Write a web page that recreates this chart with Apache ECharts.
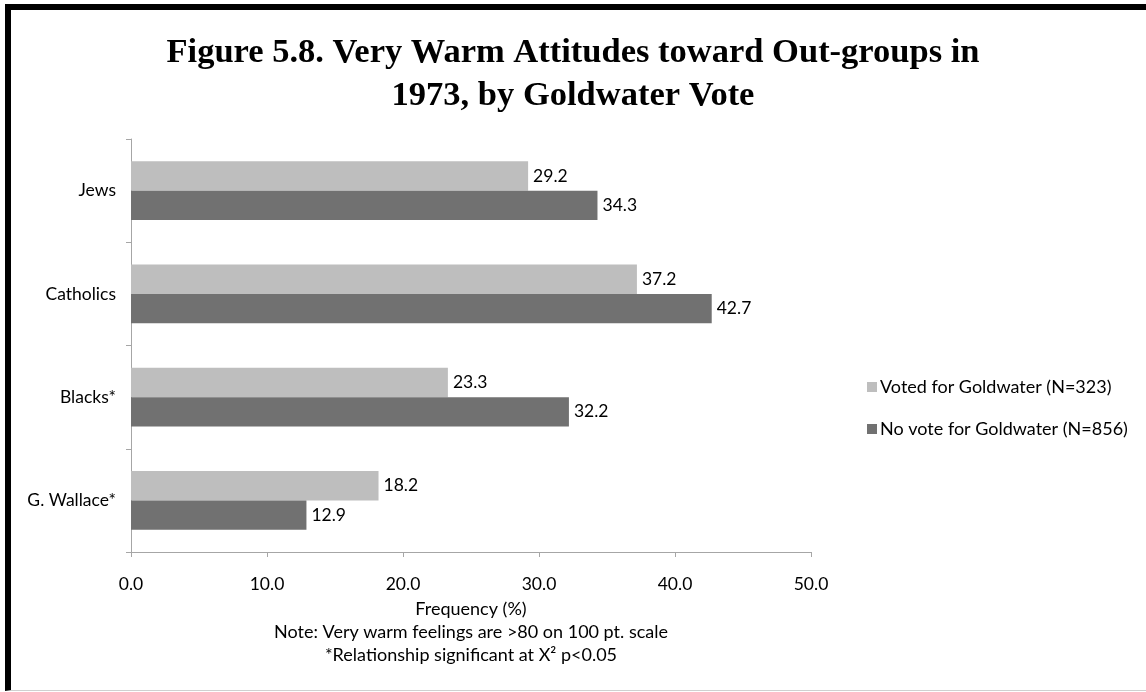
<!DOCTYPE html>
<html>
<head>
<meta charset="utf-8">
<script src="https://cdn.jsdelivr.net/npm/echarts@6/dist/echarts.min.js"></script>
<style>
html, body { margin: 0; padding: 0; background: #fff; }
#wrap { position: relative; width: 1146px; height: 692px; }
#chart { width: 1146px; height: 692px; }
/* frame round the figure */
#frame {
    position: absolute; left: 5px; top: 4px; width: 1141px; height: 687px;
    box-sizing: border-box; pointer-events: none;
    border-left: 6px solid #000; border-top: 6px solid #000; border-bottom: 1px solid #d0d0d0;
}
</style>
</head>
<body>
<div id="wrap">
    <div id="chart"></div>
    <div id="frame"></div>
</div>
<script>
// data
var categories = ['Jews', 'Catholics', 'Blacks*', 'G. Wallace*'];
var votedGoldwater = [29.2, 37.2, 23.3, 18.2];
var noVoteGoldwater = [34.3, 42.7, 32.2, 12.9];
var seriesNames = ['Voted for Goldwater (N=323)', 'No vote for Goldwater (N=856)'];
var xTicks = { min: 0, max: 50, interval: 10 };

var font = 'Lato, "Open Sans", sans-serif';
var myChart = echarts.init(document.getElementById('chart'));

var labelStyle = {
    show: true,
    position: 'right',
    distance: 5,
    color: '#000',
    fontSize: 17.5,
    fontFamily: font,
    formatter: function (p) { return p.value.toFixed(1); }
};

var option = {
    backgroundColor: '#fff',
    animation: false,
    title: {
        text: 'Figure 5.8. Very Warm Attitudes toward Out-groups in\n1973, by Goldwater Vote',
        left: 'center',
        top: 27,
        textStyle: {
            fontFamily: '"Liberation Serif", "Times New Roman", serif',
            fontWeight: 'bold',
            fontSize: 34.5,
            lineHeight: 43,
            color: '#000'
        }
    },
    legend: {
        orient: 'vertical',
        left: 862,
        top: 373,
        itemWidth: 10,
        itemHeight: 10,
        itemGap: 24,
        icon: 'rect',
        data: seriesNames,
        textStyle: { fontSize: 18, fontFamily: font, color: '#000', padding: [0, 0, 0, -2] }
    },
    grid: { left: 131, right: 335, top: 139, bottom: 140 },
    xAxis: {
        type: 'value',
        min: xTicks.min,
        max: xTicks.max,
        interval: xTicks.interval,
        name: 'Frequency (%)\nNote: Very warm feelings are >80 on 100 pt. scale\n*Relationship significant at X² p<0.05',
        nameLocation: 'middle',
        nameGap: 46,
        nameTextStyle: { fontSize: 18, fontFamily: font, color: '#000', lineHeight: 23 },
        axisLine: { show: true, lineStyle: { color: '#a6a6a6', width: 1 } },
        axisTick: { show: true, length: 5, lineStyle: { color: '#a6a6a6' } },
        axisLabel: {
            margin: 23,
            fontSize: 17.5,
            fontFamily: font,
            color: '#000',
            formatter: function (v) { return v.toFixed(1); }
        },
        splitLine: { show: false }
    },
    yAxis: {
        type: 'category',
        data: categories,
        inverse: true,
        axisLine: { show: true, lineStyle: { color: '#a6a6a6', width: 1 } },
        axisTick: { show: true, length: 5, lineStyle: { color: '#a6a6a6' } },
        axisLabel: { margin: 15, fontSize: 17.5, fontFamily: font, color: '#000' }
    },
    series: [
        {
            name: seriesNames[0],
            type: 'bar',
            data: votedGoldwater,
            barGap: '0%',
            barCategoryGap: '43%',
            itemStyle: { color: '#bebebe' },
            label: labelStyle
        },
        {
            name: seriesNames[1],
            type: 'bar',
            data: noVoteGoldwater,
            barGap: '0%',
            barCategoryGap: '43%',
            itemStyle: { color: '#717171' },
            label: labelStyle
        }
    ]
};

myChart.setOption(option);
</script>
</body>
</html>
